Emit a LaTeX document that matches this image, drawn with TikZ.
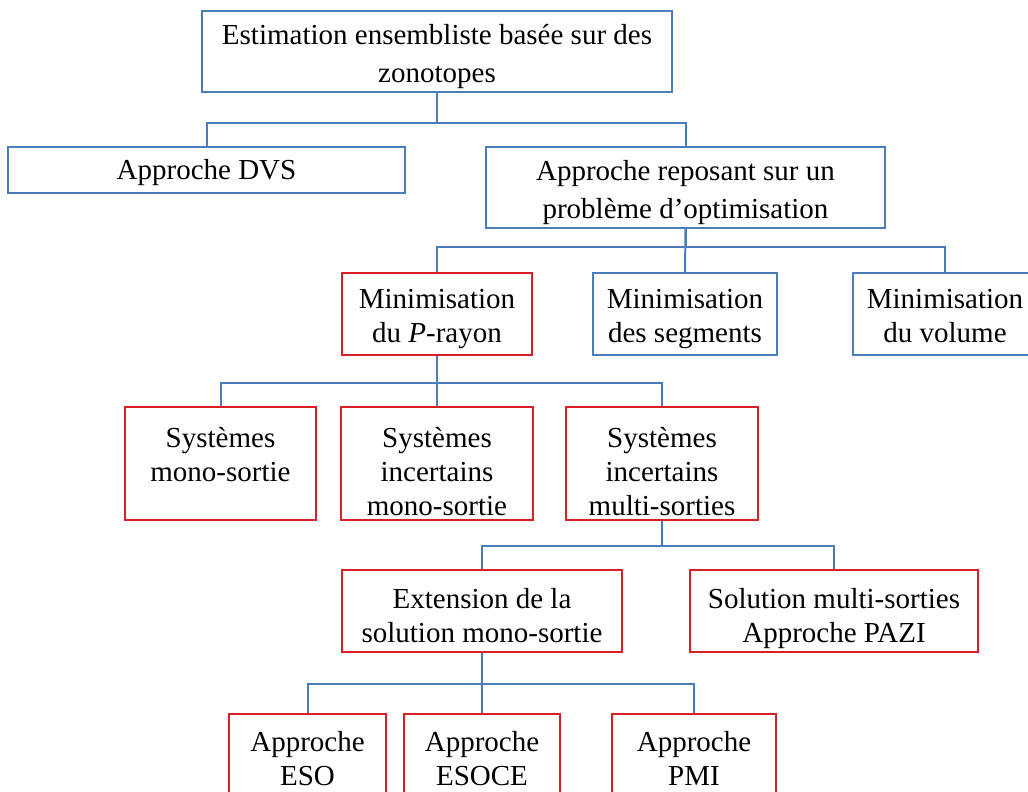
\documentclass[tikz,border=0pt]{standalone}
\usepackage{fontspec}
\setmainfont{Liberation Serif}
\usepackage{tikz}

\definecolor{boxblue}{RGB}{74,126,187}
\definecolor{boxred}{RGB}{218,32,38}

\begin{document}
\begin{tikzpicture}[x=1pt,y=-1pt,
    box/.style={draw, line width=2.4pt, inner sep=0pt, align=center,
      font=\fontsize{29}{34}\selectfont},
    onerow/.style={text height=19pt, text depth=0pt},
    tworows/.style={text height=56pt, text depth=0pt},
    widerows/.style={font=\fontsize{29}{38}\selectfont, text height=61pt, text depth=0pt},
    threerows/.style={text height=103pt, text depth=0pt},
    bluebox/.style={box, draw=boxblue},
    redbox/.style={box, draw=boxred},
    link/.style={draw=boxblue, line width=2pt}]
  \useasboundingbox (0,0) rectangle (1028,792);
  \fill[white] (0,0) rectangle (1028,792);

  \node[bluebox, widerows, minimum width=470, minimum height=81] (top) at (437,51.5)
    {Estimation ensembliste basée sur des\\zonotopes};
  \node[bluebox, onerow, minimum width=397, minimum height=46] (dvs) at (206.5,170)
    {Approche DVS};
  \node[bluebox, widerows, minimum width=399, minimum height=81] (optim) at (685.5,187.5)
    {Approche reposant sur un\\problème d’optimisation};

  \node[redbox, tworows, minimum width=190, minimum height=82] (prayon) at (437,314)
    {Minimisation\\du \textit{P}-rayon};
  \node[bluebox, tworows, minimum width=184, minimum height=82] (segm) at (685,314)
    {Minimisation\\des segments};
  \node[bluebox, tworows, minimum width=184, minimum height=82] (volume) at (945,314)
    {Minimisation\\du volume};

  \node[redbox, threerows, minimum width=191, minimum height=113] (mono) at (220.5,463.5)
    {Systèmes\\mono-sortie\\~};
  \node[redbox, threerows, minimum width=192, minimum height=113] (incmono) at (437,463.5)
    {Systèmes\\incertains\\mono-sortie};
  \node[redbox, threerows, minimum width=192, minimum height=113] (incmulti) at (662,463.5)
    {Systèmes\\incertains\\multi-sorties};

  \node[redbox, tworows, text height=62pt, minimum width=280, minimum height=82] (ext) at (482,611)
    {Extension de la\\solution mono-sortie};
  \node[redbox, tworows, text height=62pt, minimum width=288, minimum height=82] (pazi) at (834,611)
    {Solution multi-sorties\\Approche PAZI};

  \node[redbox, tworows, minimum width=157, minimum height=86] (eso) at (307.5,757)
    {Approche\\ESO};
  \node[redbox, tworows, minimum width=156, minimum height=86] (esoce) at (482,757)
    {Approche\\ESOCE};
  \node[redbox, tworows, minimum width=164, minimum height=86] (pmi) at (694,757)
    {Approche\\PMI};

  % tree links
  \draw[link] (top.south) -- ++(0,30) -| (dvs.north);
  \draw[link] (top.south) -- ++(0,30) -| (optim.north);
  \draw[link] (optim.south) -- ++(0,18) -| (prayon.north);
  \draw[link] (optim.south) -- (segm.north);
  \draw[link] (optim.south) -- ++(0,18) -| (volume.north);
  \draw[link] (prayon.south) -- ++(0,27) -| (mono.north);
  \draw[link] (prayon.south) -- (incmono.north);
  \draw[link] (prayon.south) -- ++(0,27) -| (incmulti.north);
  \draw[link] (incmulti.south) -- ++(0,25) -| (ext.north);
  \draw[link] (incmulti.south) -- ++(0,25) -| (pazi.north);
  \draw[link] (ext.south) -- ++(0,31) -| (eso.north);
  \draw[link] (ext.south) -- (esoce.north);
  \draw[link] (ext.south) -- ++(0,31) -| (pmi.north);
\end{tikzpicture}
\end{document}
